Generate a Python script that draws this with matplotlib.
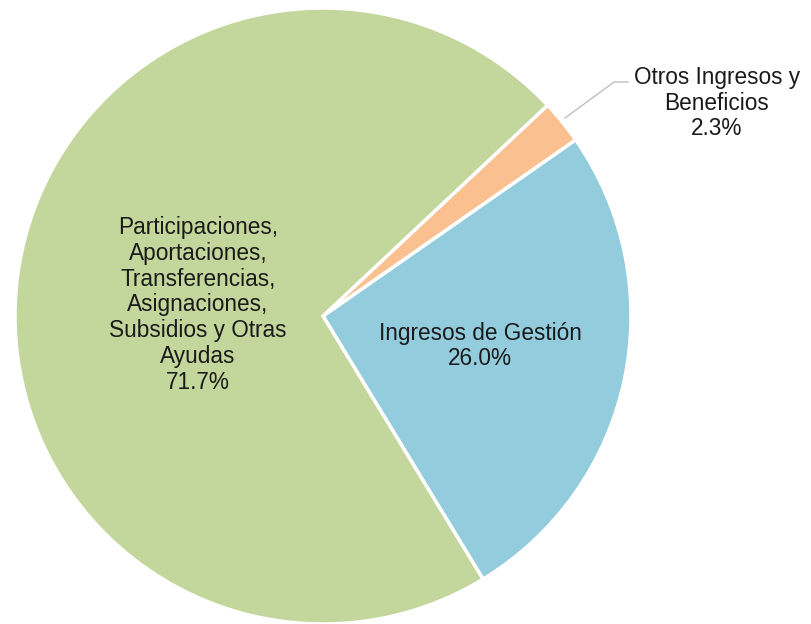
import matplotlib
matplotlib.use("Agg")
import matplotlib.pyplot as plt

labels = ["Ingresos de Gestión", "Otros Ingresos y\nBeneficios",
          "Participaciones,\nAportaciones,\nTransferencias,\nAsignaciones,\nSubsidios y Otras\nAyudas"]
values = [26.0, 2.3, 71.7]
colors = ["#93CDDD", "#FAC090", "#C3D69B"]

plt.rcParams['font.family'] = ['Liberation Sans', 'DejaVu Sans']
fig = plt.figure(figsize=(8.11, 6.24), dpi=100)
ax = fig.add_axes([0, 0, 1, 1])

cx, cy, r = 323, -316, 308
wedges, _ = ax.pie(values, colors=colors, startangle=-58.7, counterclock=True,
                   center=(cx, cy), radius=r, frame=True,
                   wedgeprops=dict(edgecolor='white', linewidth=2.5))
ax.set_xlim(0, 811)
ax.set_ylim(-624, 0)
ax.set_aspect('equal')
ax.axis('off')

fs = 16.3
ls = 1.15
txtc = '#1a1a1a'
ax.text(480, -346, f"{labels[0]}\n{values[0]:.1f}%", ha='center', va='center',
        fontsize=fs, color=txtc, linespacing=ls)
ax.text(198, -305, f"{labels[2]}\n{values[2]:.1f}%", ha='center', va='center',
        fontsize=fs, color=txtc, linespacing=ls)
ax.text(717, -103, f"{labels[1]}\n{values[1]:.1f}%", ha='center', va='center',
        fontsize=fs, color=txtc, linespacing=ls)
ax.plot([565, 614, 628], [-118, -82, -82], color='#BFBFBF', lw=1)

fig.savefig("out.png", dpi=100)
